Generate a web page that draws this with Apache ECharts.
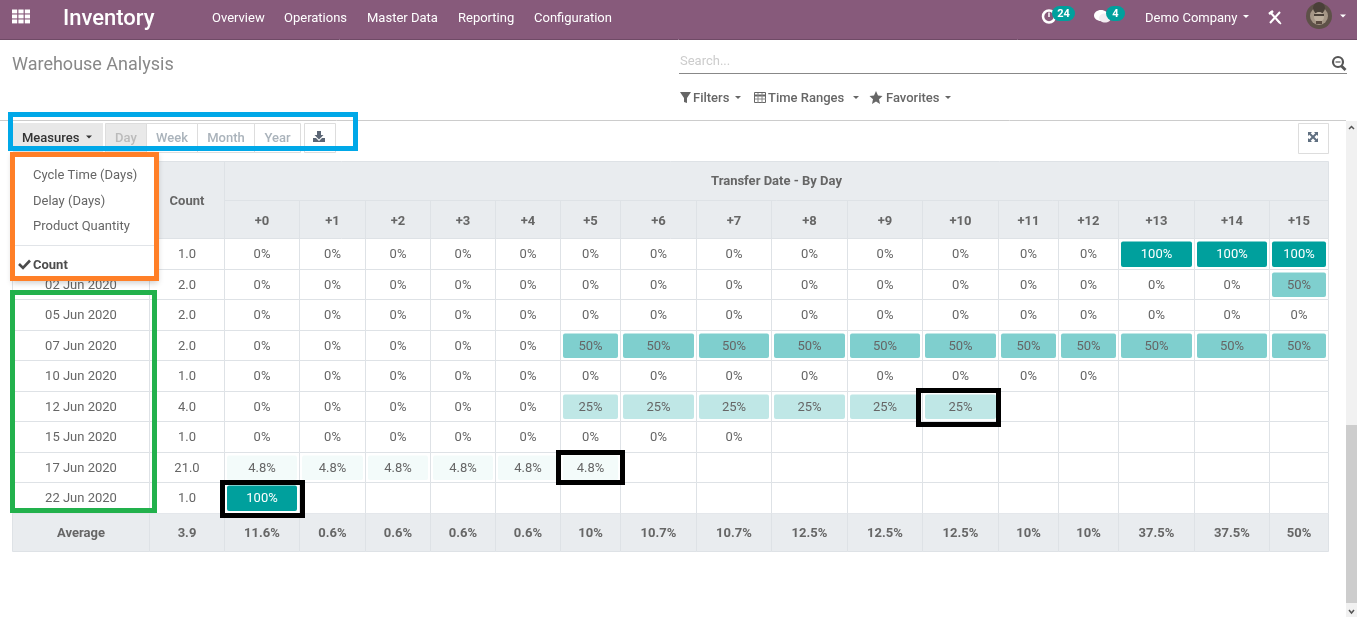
<!DOCTYPE html>
<html>
<head>
<meta charset="utf-8">
<title>Warehouse Analysis</title>
<style>html,body{margin:0;padding:0;background:#fff;overflow:hidden}#c{width:1357px;height:617px}</style>
<script src="https://cdn.jsdelivr.net/npm/echarts@6/dist/echarts.min.js"></script>
</head>
<body>
<div id="c"></div>
<script>
// ---- data ----
const DATES = ['01 Jun 2020','02 Jun 2020','05 Jun 2020','07 Jun 2020','10 Jun 2020','12 Jun 2020','15 Jun 2020','17 Jun 2020','22 Jun 2020'];
const AVERAGE_LABEL = ['Average'];
const COUNTS = [1,2,2,2,1,4,1,21,1];
const OFFSETS = ['+0','+1','+2','+3','+4','+5','+6','+7','+8','+9','+10','+11','+12','+13','+14','+15'];
const _ = null;
const ROW_01 = [0,0,0,0,0,0,0,0,0,0,0,0,0,100,100,100];
const ROW_02 = [0,0,0,0,0,0,0,0,0,0,0,0,0,0,0,50];
const ROW_05 = [0,0,0,0,0,0,0,0,0,0,0,0,0,0,0,0];
const ROW_07 = [0,0,0,0,0,50,50,50,50,50,50,50,50,50,50,50];
const ROW_10 = [0,0,0,0,0,0,0,0,0,0,0,0,0,_,_,_];
const ROW_12 = [0,0,0,0,0,25,25,25,25,25,25,_,_,_,_,_];
const ROW_15 = [0,0,0,0,0,0,0,0,_,_,_,_,_,_,_,_];
const ROW_17 = [4.8,4.8,4.8,4.8,4.8,4.8,_,_,_,_,_,_,_,_,_,_];
const ROW_22 = [100,_,_,_,_,_,_,_,_,_,_,_,_,_,_,_];
const RETENTION = [ROW_01,ROW_02,ROW_05,ROW_07,ROW_10,ROW_12,ROW_15,ROW_17,ROW_22];
const AVERAGE_COUNT = 3.9;
const AVERAGES = [11.6,0.6,0.6,0.6,0.6,10,10.7,10.7,12.5,12.5,12.5,10,10,37.5,37.5,50];

// ---- layout ----
const COL_WIDTHS = [137,75,75,66,65,65,65,60,76,75,76,75,76,60,60,76,75,59]; // date, count, +0..+15
const X0 = 12.5;
const EDGES = COL_WIDTHS.reduce((a,w)=>{a.push(a[a.length-1]+w);return a;},[X0]);
const X1 = EDGES[EDGES.length-1];
const mid = i => (EDGES[i]+EDGES[i+1])/2;
const FONT = 'Roboto, sans-serif';
const TXT = '#666666', LINE = '#dee2e6', HEAD = '#e9ecef', TEAL = '#00a09d';
const DY = 1;

// ---- series data ----
const cellData = [];
RETENTION.forEach((row,r)=>{
  cellData.push([mid(0),r,null,0]);
  cellData.push([mid(1),r,COUNTS[r],1]);
  row.forEach((v,c)=>cellData.push([mid(c+2),r,v,c+2]));
});
const avgData = [[mid(0),0,null,0],[mid(1),0,AVERAGE_COUNT,1]];
AVERAGES.forEach((v,c)=>avgData.push([mid(c+2),0,v,c+2]));

function borders(l,r,t,b){
  return [
    {type:'line',shape:{x1:l,y1:t,x2:l,y2:b},style:{stroke:LINE,lineWidth:1}},
    {type:'line',shape:{x1:r,y1:t,x2:r,y2:b},style:{stroke:LINE,lineWidth:1}},
    {type:'line',shape:{x1:l,y1:b,x2:r,y2:b},style:{stroke:LINE,lineWidth:1}}
  ];
}
const crisp = v => Math.floor(v)+0.5;
function geom(api){
  const col = api.value(3), row = api.value(1);
  const y = api.coord([EDGES[0],row])[1], h = api.size([0,1])[1];
  return {col,row,
    l:crisp(api.coord([EDGES[col],row])[0]), r:crisp(api.coord([EDGES[col+1],row])[0]),
    t:crisp(y-h/2), b:crisp(y+h/2), cx:api.coord([api.value(0),row])[0], cy:y+DY};
}
function renderCell(params,api){
  const g = geom(api), v = api.value(2), ch = borders(g.l,g.r,g.t,g.b);
  if(g.col===0){
    ch.push({type:'text',style:{text:DATES[g.row],x:g.cx,y:g.cy,align:'center',verticalAlign:'middle',fill:TXT,font:'13px '+FONT}});
  } else if(v===v && v!==null){
    const pct = g.col>=2;
    if(pct && v>0){
      ch.unshift({type:'rect',shape:{x:g.l+2.5,y:g.t+3,width:g.r-g.l-5,height:g.b-g.t-5.5,r:2},
        style:{fill:'rgba(0,160,157,'+(v/100)+')'}});
    }
    ch.push({type:'text',style:{text:pct?v+'%':v.toFixed(1),x:g.cx,y:g.cy,align:'center',verticalAlign:'middle',
      fill:(pct&&v===100)?'#fff':TXT,font:'13px '+FONT}});
  }
  return {type:'group',children:ch};
}
function renderAvg(params,api){
  const g = geom(api), v = api.value(2);
  const ch = [{type:'rect',shape:{x:g.l,y:g.t,width:g.r-g.l,height:g.b-g.t},style:{fill:HEAD}}].concat(borders(g.l,g.r,g.t,g.b));
  if(g.col===0){
    ch.push({type:'text',style:{text:AVERAGE_LABEL[0],x:g.cx,y:g.cy,align:'center',verticalAlign:'middle',fill:TXT,font:'bold 13px '+FONT}});
  } else if(v===v && v!==null){
    ch.push({type:'text',style:{text:g.col>=2?v+'%':v.toFixed(1),x:g.cx,y:g.cy,align:'center',verticalAlign:'middle',
      fill:TXT,font:'bold 13px '+FONT}});
  }
  return {type:'group',children:ch};
}

// ---- page chrome ----
const G = [];
const T = (text,x,y,o={})=>G.push({type:'text',z:o.z??100,style:{text,x,y:y+2*DY,align:o.align||'left',verticalAlign:'middle',
  fill:o.fill||TXT,font:(o.w?o.w+' ':'')+(o.s||13)+'px '+FONT}});
const R = (x,y,w,h,o={})=>G.push({type:'rect',z:o.z??100,shape:{x,y,width:w,height:h,r:o.r||0},
  style:{fill:o.fill||'none',stroke:o.stroke||'none',lineWidth:o.lw||1,shadowBlur:o.sb||0,shadowColor:o.sc||'transparent',shadowOffsetY:o.so||0}});
const L = (x1,y1,x2,y2,stroke,lw=1,z=100)=>G.push({type:'line',z,shape:{x1,y1,x2,y2},style:{stroke,lineWidth:lw,lineCap:'butt'}});
const P = (points,fill,z=100)=>G.push({type:'polygon',z,shape:{points},style:{fill}});
const C = (cx,cy,r,o={})=>G.push({type:'circle',z:o.z??100,shape:{cx,cy,r},style:{fill:o.fill||'none',stroke:o.stroke||'none',lineWidth:o.lw||1}});
const caret = (x,y,c)=>P([[x-3,y-1.5],[x+3,y-1.5],[x,y+1.5]],c);
const frame = (x0,y0,x1,y1,c,w=5)=>R(x0+w/2,y0+w/2,x1-x0-w,y1-y0-w,{stroke:c,lw:w,z:110});

// top bar
R(0,0,1357,39,{fill:'#875a7b'}); L(0,39.5,1357,39.5,'#6f4a66');
for(let i=0;i<3;i++)for(let j=0;j<3;j++)R(12+i*6.4,9.5+j*5,5.2,3.9,{fill:'#fff'});
T('Inventory',63,17,{s:22,w:500,fill:'#fff'});
[['Overview',212],['Operations',284],['Master Data',367],['Reporting',458],['Configuration',534]].forEach(a=>T(a[0],a[1],17,{fill:'#fff'}));
C(1049,16.5,6,{stroke:'#fff',lw:2.5}); L(1049,12.5,1049,17,'#fff',1.5);
R(1052,6,23,15,{fill:TEAL,r:7.5}); T('24',1063.5,12,{s:11,w:'bold',fill:'#fff',align:'center'});
G.push({type:'ellipse',z:100,shape:{cx:1101,cy:15.5,rx:7,ry:5.5},style:{fill:'#fff'}});
G.push({type:'ellipse',z:100,shape:{cx:1105,cy:18,rx:6,ry:4.5},style:{fill:'#f3ecf1'}});
R(1106,6,19,15,{fill:TEAL,r:7.5}); T('4',1115.5,12,{s:11,w:'bold',fill:'#fff',align:'center'});
T('Demo Company',1145,17,{fill:'#fff'}); caret(1246,16.5,'#fff');
L(1270,12,1280,23,'#fff',2); L(1280,12,1270,23,'#fff',2); L(1269,14,1273,11,'#fff',2.5); L(1277,20,1281,24,'#fff',1.5);
C(1319,16,13,{fill:'#5e5148'}); C(1319,16,9,{fill:'#a59686'}); C(1319,8,6,{fill:'#4a4038'}); C(1319,17,5,{fill:'#bcae9c'}); R(1314,14,10,2,{fill:'#4a4038'}); R(1316,21,6,3,{fill:'#5a4a40'});
caret(1343,16,'#fff');

// control panel
T('Warehouse Analysis',12,63,{s:18,fill:'#888888'});
T('Search...',680,60,{fill:'#cccccc'});
L(679,73.5,1347,73.5,'#888888');
C(1338,62,5,{stroke:'#555',lw:2.2}); L(1341.5,66,1345.5,70,'#555',2.8); L(1335.5,62,1340.5,62,'#555',1.2);
P([[680,92],[691,92],[687,98],[687,103],[684,102],[684,98]],'#666');
T('Filters',693,97,{w:500}); caret(738,97.5,'#666');
R(754.5,92.5,11,10,{stroke:'#666'}); L(754,95.5,766,95.5,'#666',2); L(758,93,758,103,'#888'); L(762,93,762,103,'#888'); L(755,99,766,99,'#888');
T('Time Ranges',768,97,{w:500}); caret(856,97.5,'#666');
P([[876,91],[878,95.5],[882.5,96],[879,99.2],[880,104],[876,101.5],[872,104],[873,99.2],[869.5,96],[874,95.5]],'#666');
T('Favorites',886,97,{w:500}); caret(948,97.5,'#666');
L(0,120.5,1346,120.5,'#cccccc');

// toolbar buttons
R(13,123,90,30,{fill:'#e8e8e8'});
T('Measures',22,137,{fill:'#333333',w:500}); caret(89,137,'#333');
R(105.5,123.5,41,29,{fill:'#e9e9e9',stroke:'#dddddd'});
R(146.5,123.5,51,29,{stroke:'#dddddd'}); R(197.5,123.5,57,29,{stroke:'#dddddd'}); R(254.5,123.5,46,29,{stroke:'#dddddd'}); R(304.5,123.5,31,29,{stroke:'#dddddd'});
T('Day',126,137,{fill:'#bbbbbb',align:'center',w:500}); T('Week',172,137,{fill:'#aab3bb',align:'center',w:500});
T('Month',226,137,{fill:'#aab3bb',align:'center',w:500}); T('Year',277.5,137,{fill:'#aab3bb',align:'center',w:500});
P([[317,131],[321,131],[321,135],[323.5,135],[319,139.5],[314.5,135],[317,135]],'#5b6675');
P([[313,138],[316,138],[319,141],[322,138],[325,138],[325,142],[313,142]],'#5b6675');
R(1298.5,123.5,30,30,{stroke:'#dddddd'});
L(1309,133,1317,141,'#5f6f80',2); L(1317,133,1309,141,'#5f6f80',2);
P([[1308,132],[1312,132],[1308,136]],'#5f6f80'); P([[1318,132],[1314,132],[1318,136]],'#5f6f80');
P([[1308,142],[1312,142],[1308,138]],'#5f6f80'); P([[1318,142],[1314,142],[1318,138]],'#5f6f80');

// scrollbar
R(1346,121,11,496,{fill:'#f1f1f1'}); R(1346,425,11,178,{fill:'#cdcdcd'});
G.push({type:'polyline',z:100,shape:{points:[[1349,129],[1351.5,126.5],[1354,129]]},style:{stroke:'#555',lineWidth:1.5,fill:'none'}});
G.push({type:'polyline',z:100,shape:{points:[[1349,610],[1351.5,613],[1354,610]]},style:{stroke:'#555',lineWidth:1.5,fill:'none'}});

// table head
R(X0,161.5,X1-X0,77,{fill:HEAD,stroke:LINE,z:-1});
L(crisp(EDGES[2]),200.5,X1,200.5,LINE,1,-1);
EDGES.slice(1,3).forEach(x=>L(crisp(x),161.5,crisp(x),238.5,LINE,1,-1));
EDGES.slice(3,-1).forEach(x=>L(crisp(x),200.5,crisp(x),238.5,LINE,1,-1));
T('Count',mid(1),199.5,{w:'bold',align:'center',z:1});
T('Transfer Date - By Day',(EDGES[2]+X1)/2,179.5,{w:'bold',align:'center',z:1});

// measures menu
R(12,152,146,129,{fill:'#fff',sb:6,sc:'rgba(0,0,0,0.2)',so:2});
T('Cycle Time (Days)',33,173.5); T('Delay (Days)',33,199.5); T('Product Quantity',33,224.5);
L(15,245.5,155,245.5,'#e1e4e8');
G.push({type:'polyline',z:100,shape:{points:[[19,264],[23,268],[30,260.5]]},style:{stroke:'#4c4c4c',lineWidth:2.6,fill:'none'}});
T('Count',33,263.5,{w:'bold',fill:'#4c4c4c'});

// annotations
frame(8,112,358,151,'#00a8e8');
frame(10,152,159,281,'#ff7f27');
frame(10,290,157,513,'#22b14c');
frame(220,480,305,518,'#000000');
frame(556,450,625,485,'#000000');
frame(916,388,1001,427,'#000000');

const xBase = {type:'value',min:X0,max:X1,axisLine:{show:false},axisTick:{show:false},splitLine:{show:false}};

const chart = echarts.init(document.getElementById('c'),null,{renderer:'canvas'});
chart.setOption({
  animation:false,
  backgroundColor:'#ffffff',
  tooltip:{show:false},
  grid:[
    {left:X0,width:X1-X0,top:238.5,height:275},
    {left:X0,width:X1-X0,top:513.5,height:38}
  ],
  xAxis:[
    Object.assign({},xBase,{gridIndex:0,position:'top',
      axisLabel:{show:true,customValues:OFFSETS.map((o,i)=>mid(i+2)),
        formatter:v=>{const i=OFFSETS.findIndex((o,k)=>Math.abs(mid(k+2)-v)<0.01);return i<0?'':OFFSETS[i];},
        color:TXT,fontFamily:FONT,fontSize:13,fontWeight:'bold',margin:17,verticalAlign:'middle',align:'center'}}),
    Object.assign({},xBase,{gridIndex:1,axisLabel:{show:false}})
  ],
  yAxis:[
    {type:'category',gridIndex:0,inverse:true,data:DATES,axisLine:{show:false},axisTick:{show:false},splitLine:{show:false},axisLabel:{show:false}},
    {type:'category',gridIndex:1,inverse:true,data:AVERAGE_LABEL,axisLine:{show:false},axisTick:{show:false},splitLine:{show:false},axisLabel:{show:false}}
  ],
  series:[
    {type:'custom',xAxisIndex:0,yAxisIndex:0,data:cellData,renderItem:renderCell,encode:{x:0,y:1},silent:true,z:-1},
    {type:'custom',xAxisIndex:1,yAxisIndex:1,data:avgData,renderItem:renderAvg,encode:{x:0,y:1},silent:true,z:-1}
  ],
  graphic:{elements:G}
});
</script>
</body>
</html>
